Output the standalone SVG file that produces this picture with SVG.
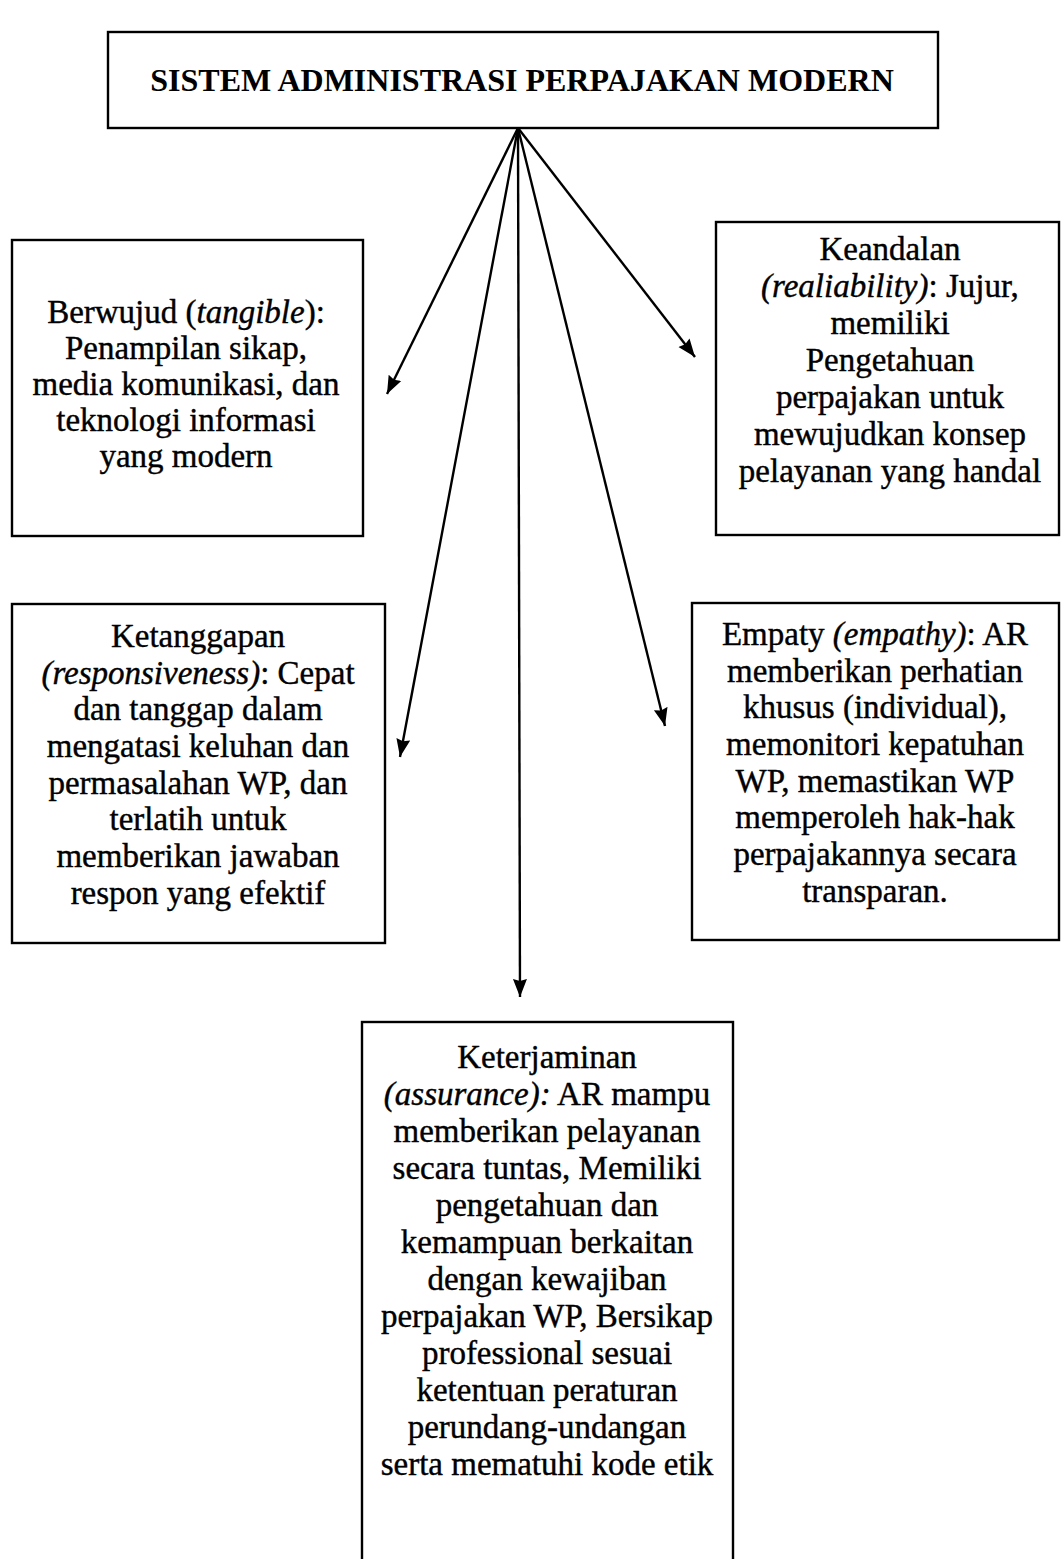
<svg xmlns="http://www.w3.org/2000/svg" width="1061" height="1559" viewBox="0 0 1061 1559">
<style>
.box{fill:#fff;stroke:#000;stroke-width:2.4}
.t{font-family:"Liberation Serif","Times New Roman",serif;font-size:33px;fill:#000;stroke:#000;stroke-width:0.4;text-anchor:middle}
.title{font-family:"Liberation Serif","Times New Roman",serif;font-size:32px;font-weight:bold;fill:#000;text-anchor:middle}
.i{font-style:italic}
.c{stroke:#000;stroke-width:2.4;fill:none;marker-end:url(#ah)}
</style>
<defs>
<marker id="ah" markerUnits="userSpaceOnUse" markerWidth="20" markerHeight="16" refX="18" refY="8" orient="auto">
<path d="M0,1 L18,8 L0,15 L2,8 z" fill="#000"/>
</marker>
</defs>
<rect width="1061" height="1559" fill="#fff"/>
<g id="connectors">
<line class="c" x1="518" y1="128" x2="387" y2="394"/>
<line class="c" x1="518" y1="128" x2="695" y2="357"/>
<line class="c" x1="518" y1="128" x2="400" y2="757"/>
<line class="c" x1="518" y1="128" x2="665" y2="726"/>
<line class="c" x1="518" y1="128" x2="520" y2="997"/>
</g>
<g id="root">
<rect class="box" x="108" y="32" width="830" height="96"/>
<text class="title" x="522" y="91">SISTEM ADMINISTRASI PERPAJAKAN MODERN</text>
</g>
<g id="berwujud">
<rect class="box" x="12" y="240" width="351" height="296"/>
<text class="t" x="186" y="323">Berwujud (<tspan class="i">tangible</tspan>):</text>
<text class="t" x="186" y="359">Penampilan sikap,</text>
<text class="t" x="186" y="395">media komunikasi, dan</text>
<text class="t" x="186" y="431">teknologi informasi</text>
<text class="t" x="186" y="467">yang modern</text>
</g>
<g id="keandalan">
<rect class="box" x="716" y="222" width="343" height="313"/>
<text class="t" x="890" y="260">Keandalan</text>
<text class="t" x="890" y="297"><tspan class="i">(realiability)</tspan>: Jujur,</text>
<text class="t" x="890" y="334">memiliki</text>
<text class="t" x="890" y="371">Pengetahuan</text>
<text class="t" x="890" y="408">perpajakan untuk</text>
<text class="t" x="890" y="445">mewujudkan konsep</text>
<text class="t" x="890" y="482">pelayanan yang handal</text>
</g>
<g id="ketanggapan">
<rect class="box" x="12" y="604" width="373" height="339"/>
<text class="t" x="198" y="647">Ketanggapan</text>
<text class="t" x="198" y="684"><tspan class="i">(responsiveness)</tspan>: Cepat</text>
<text class="t" x="198" y="720">dan tanggap dalam</text>
<text class="t" x="198" y="757">mengatasi keluhan dan</text>
<text class="t" x="198" y="794">permasalahan WP, dan</text>
<text class="t" x="198" y="830">terlatih untuk</text>
<text class="t" x="198" y="867">memberikan jawaban</text>
<text class="t" x="198" y="904">respon yang efektif</text>
</g>
<g id="empaty">
<rect class="box" x="692" y="603" width="367" height="337"/>
<text class="t" x="875" y="645">Empaty <tspan class="i">(empathy)</tspan>: AR</text>
<text class="t" x="875" y="682">memberikan perhatian</text>
<text class="t" x="875" y="718">khusus (individual),</text>
<text class="t" x="875" y="755">memonitori kepatuhan</text>
<text class="t" x="875" y="792">WP, memastikan WP</text>
<text class="t" x="875" y="828">memperoleh hak-hak</text>
<text class="t" x="875" y="865">perpajakannya secara</text>
<text class="t" x="875" y="902">transparan.</text>
</g>
<g id="keterjaminan">
<rect class="box" x="362" y="1022" width="371" height="560"/>
<text class="t" x="547" y="1068">Keterjaminan</text>
<text class="t" x="547" y="1105"><tspan class="i">(assurance):</tspan> AR mampu</text>
<text class="t" x="547" y="1142">memberikan pelayanan</text>
<text class="t" x="547" y="1179">secara tuntas, Memiliki</text>
<text class="t" x="547" y="1216">pengetahuan dan</text>
<text class="t" x="547" y="1253">kemampuan berkaitan</text>
<text class="t" x="547" y="1290">dengan kewajiban</text>
<text class="t" x="547" y="1327">perpajakan WP, Bersikap</text>
<text class="t" x="547" y="1364">professional sesuai</text>
<text class="t" x="547" y="1401">ketentuan peraturan</text>
<text class="t" x="547" y="1438">perundang-undangan</text>
<text class="t" x="547" y="1475">serta mematuhi kode etik</text>
</g>
</svg>
